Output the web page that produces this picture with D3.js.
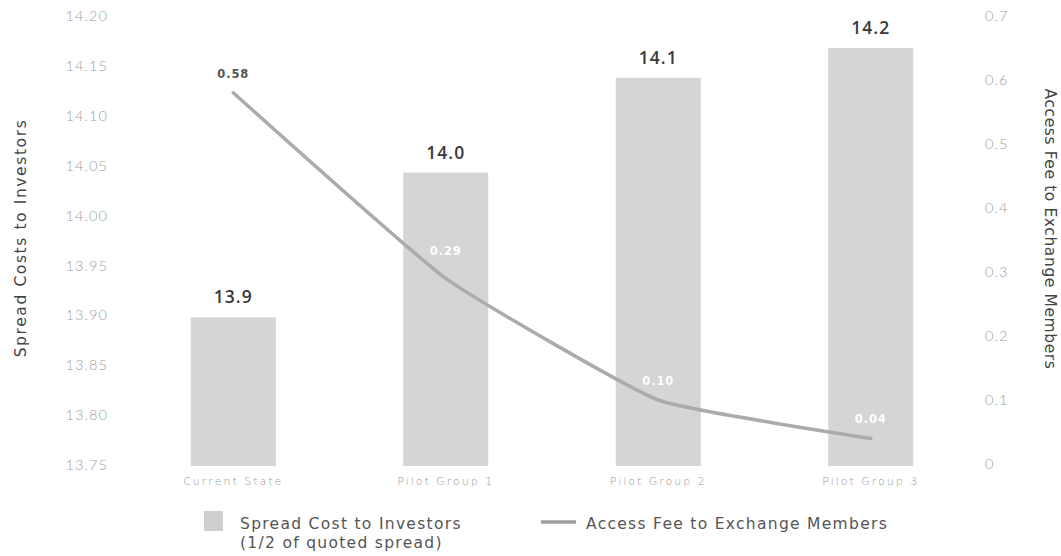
<!DOCTYPE html>
<html>
<head>
<meta charset="utf-8">
<script src="https://cdn.jsdelivr.net/npm/d3@7"></script>
<style>
  html, body { margin: 0; padding: 0; background: #fff; }
  svg { display: block; }
</style>
</head>
<body>
<svg id="chart" width="1061" height="556"></svg>
<script>
const categories = ["Current State", "Pilot Group 1", "Pilot Group 2", "Pilot Group 3"];
const spreadCost = [13.898, 14.043, 14.138, 14.168];
const spreadLabels = ["13.9", "14.0", "14.1", "14.2"];
const accessFee = [0.58, 0.29, 0.10, 0.04];
const accessLabels = ["0.58", "0.29", "0.10", "0.04"];
const leftTicks = [13.75, 13.80, 13.85, 13.90, 13.95, 14.00, 14.05, 14.10, 14.15, 14.20];
const rightTicks = [0, 0.1, 0.2, 0.3, 0.4, 0.5, 0.6, 0.7];

const svg = d3.select("#chart");
const plotTop = 16, plotBottom = 465;

const x = d3.scaleBand().domain(categories).range([127, 977]).paddingInner(0.6).paddingOuter(0.3);
const yL = d3.scaleLinear().domain([13.75, 14.20]).range([plotBottom, plotTop]);
const yR = d3.scaleLinear().domain([0, 0.7]).range([464, plotTop]);

const tickFont = "Lato, 'Open Sans', sans-serif";
const mainFont = "'DejaVu Sans', 'Open Sans', sans-serif";
const boldFont = "'Open Sans', 'DejaVu Sans', sans-serif";

// left axis
const axL = svg.append("g").attr("transform", "translate(108,0)")
  .call(d3.axisLeft(yL).tickValues(leftTicks).tickFormat(d3.format(".2f")).tickSize(0).tickPadding(0));
axL.select(".domain").remove();
axL.selectAll("text").attr("font-family", tickFont).attr("font-weight", 300)
  .attr("font-size", 14.5).attr("fill", "#a0a0a0").attr("letter-spacing", 1.1);

// right axis
const axR = svg.append("g").attr("transform", "translate(985,0)")
  .call(d3.axisRight(yR).tickValues(rightTicks).tickFormat(d => d === 0 ? "0" : d3.format(".1f")(d)).tickSize(0).tickPadding(0));
axR.select(".domain").remove();
axR.selectAll("text").attr("font-family", tickFont).attr("font-weight", 300)
  .attr("font-size", 14.5).attr("fill", "#a0a0a0").attr("letter-spacing", 1.1);

// bars
svg.append("g").selectAll("rect").data(categories).join("rect")
  .attr("x", d => x(d))
  .attr("width", x.bandwidth())
  .attr("y", (d, i) => yL(spreadCost[i]))
  .attr("height", (d, i) => plotBottom + 1 - yL(spreadCost[i]))
  .attr("fill", "#d5d5d5");

// bar value labels
svg.append("g").selectAll("text").data(categories).join("text")
  .attr("x", d => x(d) + x.bandwidth() / 2)
  .attr("y", (d, i) => yL(spreadCost[i]) - 14)
  .attr("text-anchor", "middle")
  .attr("font-family", boldFont).attr("font-weight", 600)
  .attr("font-size", 17.5).attr("fill", "#3a3a3a").attr("letter-spacing", 1)
  .text((d, i) => spreadLabels[i]);

// category labels
const axX = svg.append("g").attr("transform", `translate(0,${plotBottom})`)
  .call(d3.axisBottom(x).tickSize(0).tickPadding(12));
axX.select(".domain").remove();
axX.selectAll("text").attr("font-family", mainFont).attr("font-weight", 300)
  .attr("font-size", 11).attr("fill", "#999").attr("letter-spacing", 2);

// line
const line = d3.line()
  .x((d, i) => x(categories[i]) + x.bandwidth() / 2)
  .y(d => yR(d))
  .curve(d3.curveCardinal.tension(0.6));
svg.append("path").datum(accessFee)
  .attr("d", line).attr("fill", "none")
  .attr("stroke", "#ababab").attr("stroke-width", 3.5).attr("stroke-linecap", "round");

// line labels
svg.append("g").selectAll("text").data(accessFee).join("text")
  .attr("x", (d, i) => x(categories[i]) + x.bandwidth() / 2)
  .attr("y", (d, i) => yR(d) - (i === 1 ? 23 : 15))
  .attr("text-anchor", "middle")
  .attr("font-family", mainFont).attr("font-weight", "bold")
  .attr("font-size", 11.5).attr("letter-spacing", 0.9)
  .attr("fill", (d, i) => i === 0 ? "#555" : "#fff")
  .text((d, i) => accessLabels[i]);

// axis titles
svg.append("text")
  .attr("transform", "translate(26,238) rotate(-90)")
  .attr("text-anchor", "middle")
  .attr("font-family", mainFont).attr("font-size", 15.5).attr("fill", "#444").attr("letter-spacing", 1.6)
  .text("Spread Costs to Investors");
svg.append("text")
  .attr("transform", "translate(1045,229) rotate(90)")
  .attr("text-anchor", "middle")
  .attr("font-family", mainFont).attr("font-size", 15.5).attr("fill", "#444").attr("letter-spacing", 0.6)
  .text("Access Fee to Exchange Members");

// legend
const lg = svg.append("g");
lg.append("rect").attr("x", 204).attr("y", 511).attr("width", 19).attr("height", 20).attr("fill", "#cfcfcf");
lg.append("text").attr("x", 240).attr("y", 529)
  .attr("font-family", mainFont).attr("font-size", 15.5).attr("fill", "#555").attr("letter-spacing", 1.3)
  .text("Spread Cost to Investors");
lg.append("text").attr("x", 240).attr("y", 548)
  .attr("font-family", mainFont).attr("font-size", 15.5).attr("fill", "#555").attr("letter-spacing", 1.3)
  .text("(1/2 of quoted spread)");
lg.append("line").attr("x1", 541).attr("x2", 576).attr("y1", 522).attr("y2", 522)
  .attr("stroke", "#9f9f9f").attr("stroke-width", 3.5);
lg.append("text").attr("x", 586).attr("y", 529)
  .attr("font-family", mainFont).attr("font-size", 15.5).attr("fill", "#555").attr("letter-spacing", 1.3)
  .text("Access Fee to Exchange Members");
</script>
</body>
</html>
